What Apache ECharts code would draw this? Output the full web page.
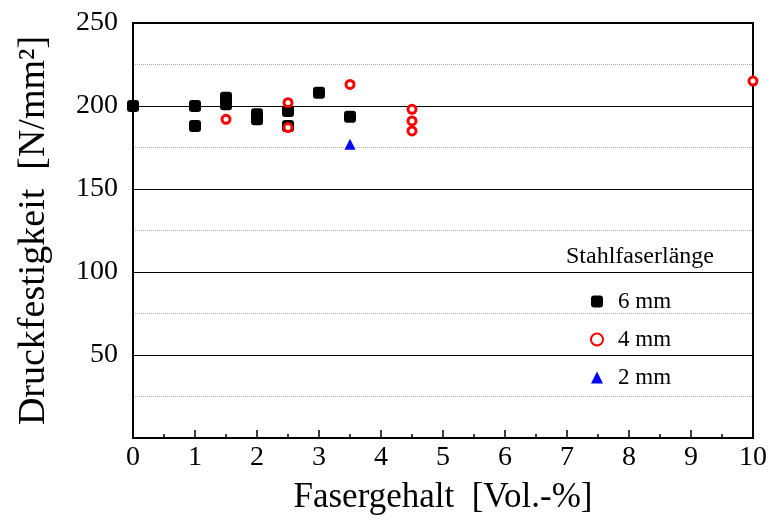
<!DOCTYPE html>
<html>
<head>
<meta charset="utf-8">
<script src="https://cdn.jsdelivr.net/npm/echarts@6/dist/echarts.min.js"></script>
<style>
  html, body { margin: 0; padding: 0; background: #fff; }
  #chart { width: 770px; height: 522px; }
</style>
</head>
<body>
<div id="chart"></div>
<script>
const font = "Liberation Serif, Times New Roman, serif";

// [Fasergehalt, Druckfestigkeit]
const fiber6mm = [
  [0, 200], [1, 200], [1, 188], [1.5, 205], [1.5, 201],
  [2, 195], [2, 192], [2.5, 197], [2.5, 188], [3, 208], [3.5, 193.5]
];
const fiber4mm = [
  [1.5, 192], [2.5, 202], [2.5, 187], [3.5, 213],
  [4.5, 198], [4.5, 191], [4.5, 185], [10, 215]
];
const fiber2mm = [[3.5, 177]];

const seriesNames = ["6 mm", "4 mm", "2 mm"];

const chart = echarts.init(document.getElementById("chart"));

const options = {
  backgroundColor: "#fff",
  animation: false,
  title: {
    text: "Stahlfaserlänge",
    left: 561,
    top: 240,
    textStyle: { fontFamily: font, fontSize: 24, fontWeight: "normal", color: "#000" },
  },
  legend: {
    orient: "vertical",
    left: 585,
    top: 285,
    itemGap: 15,
    itemWidth: 12,
    itemHeight: 12,
    data: seriesNames,
    textStyle: { fontFamily: font, fontSize: 23, color: "#000", padding: [0, 0, 0, 10] },
  },
  grid: {
    left: 133,
    top: 23,
    right: 16,
    bottom: 84,
    show: true,
    borderColor: "#000",
    borderWidth: 2,
  },
  xAxis: {
    type: "value",
    min: 0,
    max: 10,
    interval: 1,
    name: "Fasergehalt  [Vol.-%]",
    nameLocation: "middle",
    nameGap: 42,
    nameTextStyle: { fontFamily: font, fontSize: 35, color: "#000" },
    axisLine: { lineStyle: { color: "#000", width: 2 } },
    axisTick: { inside: true, length: 8, lineStyle: { color: "#000", width: 1.5 } },
    minorTick: { show: true, splitNumber: 2, length: 4, lineStyle: { color: "#000", width: 1.5 } },
    axisLabel: { fontFamily: font, fontSize: 28, color: "#000", margin: 6 },
    splitLine: { show: false },
  },
  yAxis: {
    type: "value",
    min: 0,
    max: 250,
    interval: 50,
    name: "Druckfestigkeit  [N/mm²]",
    nameLocation: "middle",
    nameGap: 80,
    nameTextStyle: { fontFamily: font, fontSize: 38, color: "#000" },
    axisLine: { lineStyle: { color: "#000", width: 2 } },
    axisTick: { show: false },
    axisLabel: {
      fontFamily: font,
      fontSize: 28,
      color: "#000",
      margin: 15,
      formatter: (v) => (v === 0 ? "" : String(v)),
    },
    splitLine: { show: true, lineStyle: { color: "#000", width: 1.2 } },
    minorTick: { show: false, splitNumber: 2 },
    minorSplitLine: { show: true, lineStyle: { color: "#aaa", type: "dotted", width: 1 } },
  },
  series: [
    {
      name: seriesNames[0],
      type: "scatter",
      data: fiber6mm,
      symbol: "roundRect",
      symbolSize: 12,
      itemStyle: { color: "#000", opacity: 1 },
    },
    {
      name: seriesNames[1],
      type: "scatter",
      data: fiber4mm,
      symbol: "circle",
      symbolSize: 8,
      itemStyle: { color: "#fff", borderColor: "#f00", borderWidth: 3, opacity: 1 },
    },
    {
      name: seriesNames[2],
      type: "scatter",
      data: fiber2mm,
      symbol: "triangle",
      symbolSize: 11,
      itemStyle: { color: "#00f", opacity: 1 },
    },
  ],
};

chart.setOption(options);
</script>
</body>
</html>
